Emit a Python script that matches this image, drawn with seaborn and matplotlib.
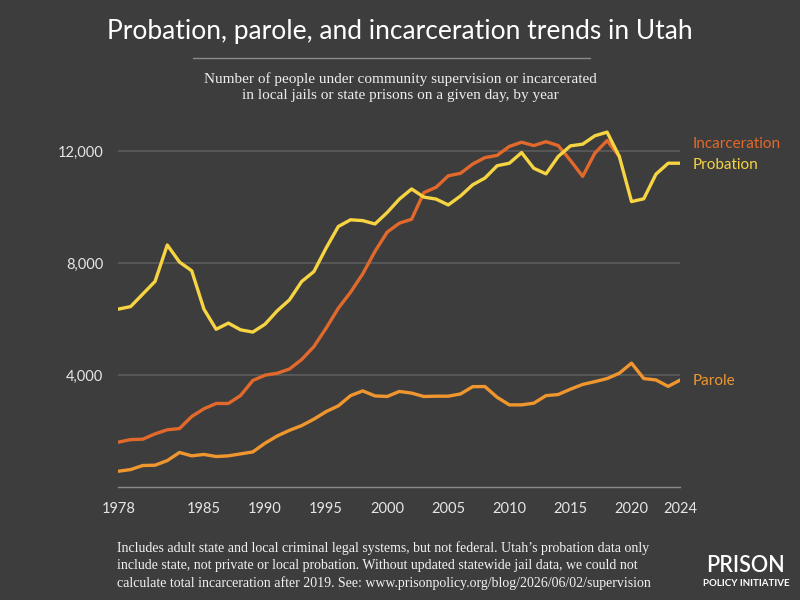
import numpy as np
import pandas as pd
import matplotlib
matplotlib.use("Agg")
import matplotlib.pyplot as plt
import seaborn as sns

# values
years = list(range(1978, 2025))
probation = [6360, 6450, 6900, 7350, 8650, 8040, 7730, 6360, 5640, 5860,
             5620, 5540, 5820, 6300, 6690, 7345, 7700, 8540, 9310, 9550,
             9520, 9400, 9810, 10290, 10650, 10360, 10290, 10080, 10400, 10800,
             11040, 11480, 11570, 11950, 11390, 11190, 11810, 12190, 12250, 12550,
             12680, 11810, 10200, 10300, 11180, 11570, 11570]
parole = [570, 630, 775, 785, 950, 1240, 1120, 1170, 1095, 1120,
          1190, 1260, 1570, 1830, 2030, 2200, 2430, 2700, 2905, 3270,
          3440, 3260, 3240, 3420, 3360, 3240, 3250, 3250, 3330, 3590,
          3595, 3210, 2940, 2940, 3000, 3270, 3310, 3500, 3670, 3770,
          3880, 4070, 4430, 3880, 3830, 3600, 3830]
incarceration_years = list(range(1978, 2020))
incarceration = [1610, 1700, 1715, 1905, 2050, 2095, 2525, 2800, 2990, 2990,
                 3275, 3810, 4000, 4070, 4220, 4560, 5020, 5680, 6390, 6960,
                 7620, 8420, 9110, 9430, 9570, 10520, 10710, 11120, 11210, 11540,
                 11770, 11850, 12170, 12320, 12200, 12340, 12200, 11670, 11100, 11930,
                 12380, 11810]

x_labels = [1978, 1985, 1990, 1995, 2000, 2005, 2010, 2015, 2020, 2024]
y_ticks = [4000, 8000, 12000]

bg = "#3d3d3d"
c_prob = "#f6d442"
c_inc = "#e1692b"
c_par = "#f0962f"
sans = ["Lato", "DejaVu Sans"]
serif = ["Liberation Serif", "DejaVu Serif"]

sns.set_style("dark")
plt.rcParams["font.family"] = sans

fig = plt.figure(figsize=(8, 6), dpi=100, facecolor=bg)
ax = fig.add_axes([0.148, 0.188, 0.7025, 0.6067])
ax.set_facecolor(bg)

sns.lineplot(x=incarceration_years, y=incarceration, ax=ax, color=c_inc, lw=2.4)
sns.lineplot(x=years, y=probation, ax=ax, color=c_prob, lw=2.4)
sns.lineplot(x=years, y=parole, ax=ax, color=c_par, lw=2.4)

ax.set_xlim(1978, 2024)
ax.set_ylim(0, 13000)
ax.set_xticks(x_labels)
ax.set_xticks(years, minor=True)
ax.set_yticks(y_ticks)
ax.set_yticklabels([f"{v:,}" for v in y_ticks])
ax.grid(axis="y", color="#5c5c5c", lw=1.2)
ax.grid(axis="x", visible=False)
for s in ["top", "right", "left"]:
    ax.spines[s].set_visible(False)
ax.spines["bottom"].set_color("#8a8a8a")
ax.spines["bottom"].set_linewidth(1)
ax.tick_params(axis="y", length=0, pad=11, labelcolor="#e6e6e6", labelsize=10.5)
ax.tick_params(axis="x", which="major", direction="in", length=3, color="#8a8a8a",
               pad=11, labelcolor="#e6e6e6", labelsize=10.5)
ax.tick_params(axis="x", which="minor", direction="in", length=3, color="#8a8a8a")
ax.set_xlabel("")
ax.set_ylabel("")

# series labels at the right
ax.annotate("Incarceration", xy=(years[-1], probation[-1]), xytext=(9, 13.5),
            textcoords="offset points", color=c_inc, fontsize=11, va="center")
ax.annotate("Probation", xy=(years[-1], probation[-1]), xytext=(9, -1.5),
            textcoords="offset points", color=c_prob, fontsize=11, va="center")
ax.annotate("Parole", xy=(years[-1], parole[-1]), xytext=(9, -1),
            textcoords="offset points", color=c_par, fontsize=11, va="center")

fig.text(0.5, 0.947, "Probation, parole, and incarceration trends in Utah",
         ha="center", va="center", color="white", fontsize=19)
fig.add_artist(plt.Line2D([0.241, 0.738], [0.903, 0.903], color="#8a8a8a", lw=1))
fig.text(0.5, 0.855, "Number of people under community supervision or incarcerated\n"
         "in local jails or state prisons on a given day, by year",
         ha="center", va="center", color="#eeeeee", fontsize=11, family=serif,
         linespacing=1.3)
fig.text(0.146, 0.058,
         "Includes adult state and local criminal legal systems, but not federal. Utah\u2019s probation data only\n"
         "include state, not private or local probation. Without updated statewide jail data, we could not\n"
         "calculate total incarceration after 2019. See: www.prisonpolicy.org/blog/2026/06/02/supervision",
         ha="left", va="center", color="#f2f2f2", fontsize=10, family=serif,
         linespacing=1.4)
fig.text(0.9325, 0.0567, "PRISON", ha="center", va="center", color="white",
         fontsize=15.5, fontweight="semibold")
fig.text(0.9325, 0.0275, "POLICY INITIATIVE", ha="center", va="center", color="white",
         fontsize=7, fontweight="bold")

fig.savefig("out.png", dpi=100, facecolor=bg)
